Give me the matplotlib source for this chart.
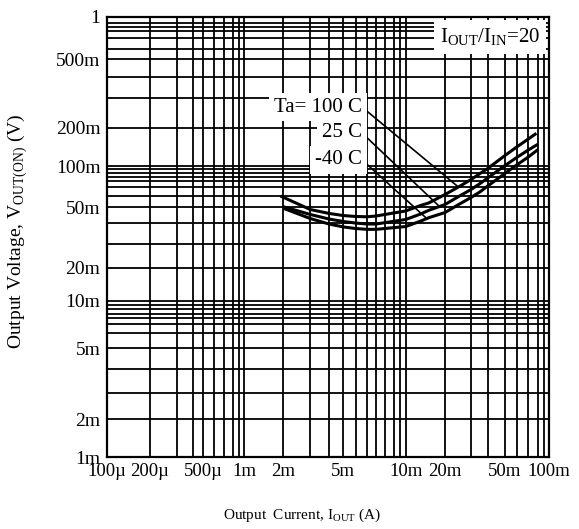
import numpy as np
import matplotlib
matplotlib.use('Agg')
import matplotlib.pyplot as plt

# Output current (A) and output voltage (V), one pair of lists per temperature
i_100c = [1.9e-3, 3e-3, 4e-3, 5e-3, 6e-3, 7e-3, 8e-3, 10e-3, 13e-3, 15e-3, 20e-3, 25e-3, 30e-3, 35e-3, 40e-3, 50e-3, 60e-3, 70e-3, 78e-3]
v_100c = [60e-3, 48.4e-3, 45.7e-3, 44.3e-3, 43.7e-3, 43.5e-3, 44.0e-3, 47.4e-3, 51.5e-3, 53.6e-3, 61.5e-3, 70.3e-3, 83.4e-3, 93.2e-3, 97.7e-3, 120.9e-3, 141e-3, 163e-3, 180.7e-3]

i_25c = [2e-3, 3e-3, 4e-3, 5e-3, 6e-3, 7e-3, 8e-3, 10e-3, 13e-3, 15e-3, 20e-3, 25e-3, 30e-3, 35e-3, 40e-3, 50e-3, 60e-3, 70e-3, 80e-3]
v_25c = [50.5e-3, 45.0e-3, 42.1e-3, 40.6e-3, 39.7e-3, 39.2e-3, 39.2e-3, 41.8e-3, 45.3e-3, 47.8e-3, 52.3e-3, 59.9e-3, 66.8e-3, 75e-3, 87.8e-3, 100.9e-3, 116.6e-3, 133.6e-3, 148.9e-3]

i_m40c = [2e-3, 3e-3, 4e-3, 5e-3, 6e-3, 7e-3, 8e-3, 10e-3, 13e-3, 15e-3, 20e-3, 25e-3, 30e-3, 35e-3, 40e-3, 50e-3, 60e-3, 70e-3, 80e-3]
v_m40c = [49.3e-3, 42.4e-3, 39.2e-3, 37.7e-3, 36.9e-3, 36.5e-3, 36.5e-3, 37.9e-3, 40.8e-3, 42.9e-3, 46.3e-3, 52.6e-3, 58.6e-3, 64.2e-3, 71.1e-3, 93.3e-3, 101.8e-3, 117.7e-3, 135.3e-3]

labels = ['Ta= 100 C', '25 C', '-40 C']
label_pos = [(6.52e-3, 264e-3), (6.52e-3, 182e-3), (6.52e-3, 112e-3)]
pointer_to = [(24.5e-3, 70e-3), (18e-3, 51e-3), (14.5e-3, 42.4e-3)]

x_ticks = [1e-4, 2e-4, 5e-4, 1e-3, 2e-3, 5e-3, 1e-2, 2e-2, 5e-2, 1e-1]
x_ticklabels = ['100\u00b5', '200\u00b5', '500\u00b5', '1m', '2m', '5m', '10m', '20m', '50m', '100m']
y_ticks = [1e-3, 2e-3, 5e-3, 1e-2, 2e-2, 5e-2, 1e-1, 2e-1, 5e-1, 1]
y_ticklabels = ['1m', '2m', '5m', '10m', '20m', '50m', '100m', '200m', '500m', '1']

# The printed grid is not a clean log grid: each decade has its own width and the
# 2..9 lines are squeezed, so the axes use the grid as drawn (pixel offsets of each line)
grid_x = [m * 10.0 ** e for e in (-4, -3, -2) for m in range(1, 10)] + [1e-1]
grid_x_px = [0, 42.7, 69.4, 85.4, 96, 106.7, 117, 125.4, 132,
             137, 176, 203, 221.7, 236, 248.4, 260, 268.7, 277.7,
             298.4, 337.7, 363.7, 380.4, 397.7, 409.4, 421, 431, 436.7,
             441.7]
grid_y = [m * 10.0 ** e for e in (-3, -2, -1) for m in range(1, 10)] + [1.0]
grid_y_px = [0, 37.7, 64.3, 88, 108.7, 124.3, 133, 138.7, 143,
             156.3, 189.3, 213, 234.5, 249.7, 261, 270.3, 276.3, 279.7,
             291, 329.3, 359.5, 380.3, 398, 407.7, 418.7, 426.3, 430.3,
             440.3]
extra_x = [9.4e-3, 9.7e-3]
extra_y = [9.4e-3, 9.7e-3, 94e-3, 97e-3, 940e-3]


def drawn_scale(vals, offs):
    lv = np.log10(vals)

    def forward(v):
        v = np.asarray(v, dtype=float)
        with np.errstate(divide='ignore', invalid='ignore'):
            l = np.log10(np.where(v > 0, v, np.nan))
        return np.interp(l, lv, offs)

    def inverse(u):
        return 10.0 ** np.interp(np.asarray(u, dtype=float), offs, lv)

    return forward, inverse


plt.rcParams['font.family'] = ['Liberation Serif', 'DejaVu Serif']
plt.rcParams['mathtext.fontset'] = 'custom'
plt.rcParams['mathtext.rm'] = 'Liberation Serif'

fig = plt.figure(figsize=(5.79, 5.29), dpi=100)
ax = fig.add_axes([107.3 / 579, 1 - 457 / 529, 441.7 / 579, 440.3 / 529])

ax.set_xscale('function', functions=drawn_scale(grid_x, grid_x_px))
ax.set_yscale('function', functions=drawn_scale(grid_y, grid_y_px))
ax.set_xlim(1e-4, 1e-1)
ax.set_ylim(1e-3, 1)

ax.set_xticks(x_ticks)
ax.set_xticklabels(x_ticklabels)
ax.set_xticks([v for v in grid_x if v not in x_ticks] + extra_x, minor=True)
ax.set_yticks(y_ticks)
ax.set_yticklabels(y_ticklabels)
ax.set_yticks([v for v in grid_y if v not in y_ticks] + extra_y, minor=True)
ax.tick_params(which='both', length=0)
ax.tick_params(axis='x', pad=4, labelsize=13.5)
ax.tick_params(axis='y', pad=5, labelsize=14)
ax.grid(True, which='both', color='black', linewidth=1.3)
for sp in ax.spines.values():
    sp.set_linewidth(1.6)

for xs, ys in [(i_100c, v_100c), (i_25c, v_25c), (i_m40c, v_m40c)]:
    ax.plot(xs, ys, color='black', linewidth=2.2, solid_capstyle='butt')

for text, pos, tip in zip(labels, label_pos, pointer_to):
    ax.annotate(text, xy=tip, xytext=pos, ha='right', va='center', fontsize=15,
                bbox=dict(boxstyle='square,pad=0.22', fc='white', ec='none'),
                arrowprops=dict(arrowstyle='-', color='black', lw=1.2,
                                relpos=(1, 0.5), shrinkA=0, shrinkB=0))

ax.text(0.98, 0.954, r'I$_{\rm OUT}$/I$_{\rm IN}$=20', transform=ax.transAxes,
        ha='right', va='center', fontsize=15,
        bbox=dict(boxstyle='square,pad=0.28', fc='white', ec='none'))

ax.set_xlabel(r'Output  Current, I$_{\rm OUT}$ (A)', fontsize=11, va='center')
ax.xaxis.set_label_coords(0.442, -0.132)
ax.set_ylabel(r'Output Voltage, V$_{\rm OUT(ON)}$ (V)', fontsize=14, va='center')
ax.yaxis.set_label_coords(-0.202, 0.513)

fig.savefig('out.png', dpi=100, facecolor='white')
